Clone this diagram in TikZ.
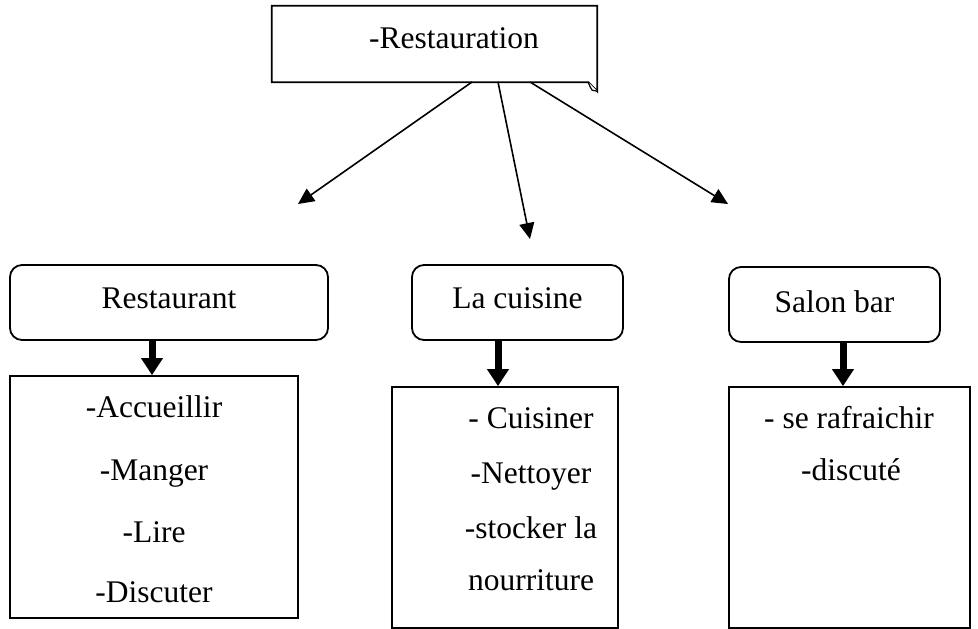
\documentclass[tikz,border=0pt]{standalone}
\usepackage{fontspec}
\setmainfont{Liberation Serif}
\usetikzlibrary{arrows.meta}
\begin{document}
\begin{tikzpicture}[x=1pt,y=-1pt,
  txt/.style={anchor=base,inner sep=0pt,font=\fontsize{31.5}{38}\selectfont},
  rbox/.style={draw,line width=1.8pt,rounded corners=12pt,inner sep=0pt},
  lbox/.style={draw,line width=1.8pt,inner sep=0pt},
  thin/.style={line width=1.6pt,-{Triangle[length=16pt,width=15pt]}},
  thick/.style={line width=7pt,-{Triangle[length=17pt,width=21pt]}}]
\useasboundingbox (0,0) rectangle (978,629);
% top box (folded corner)
\node[inner sep=0pt,minimum width=325pt,minimum height=76pt] (top) at (434.5,44) {};
\draw[line width=1.8pt,line join=miter] (top.north west) -- (top.north east) -- ([yshift=-9pt]top.south east) -- ([xshift=-9pt]top.south east) -- (top.south west) -- cycle;
\draw[line width=1.2pt,fill=white] ([xshift=-9pt]top.south east) .. controls ([xshift=-7pt,yshift=-5pt]top.south east) .. ([xshift=-5pt,yshift=-8pt]top.south east) -- ([yshift=-9pt]top.south east);
\node[txt] (toptxt) at (454,48) {-Restauration};
% middle rounded boxes
\node[rbox,minimum width=318pt,minimum height=75pt] (rest) at (169,302.5) {};
\node[txt] at (169,308) {Restaurant};
\node[rbox,minimum width=211pt,minimum height=75pt] (cuis) at (517.5,302.5) {};
\node[txt] at (517.5,308) {La cuisine};
\node[rbox,minimum width=211pt,minimum height=75pt] (salon) at (834.5,304.5) {};
\node[txt] at (834.5,312) {Salon bar};
% thin arrows
\coordinate (s1) at (472,82);
\coordinate (s2) at (498,82);
\coordinate (s3) at (530,82);
\coordinate (e1) at (298,204);
\coordinate (e2) at (530,239);
\coordinate (e3) at (728,204);
\draw[thin] (s1) -- (e1);
\draw[thin] (s2) -- (e2);
\draw[thin] (s3) -- (e3);
% lower boxes
\node[lbox,minimum width=288pt,minimum height=242pt] (restl) at (154,497) {};
\node[lbox,minimum width=226pt,minimum height=241pt] (cuisl) at (505,507.5) {};
\node[lbox,minimum width=241pt,minimum height=241pt] (salonl) at (849.5,507.5) {};
% thick arrows
\draw[thick] (rest.south -| 152,0) -- (restl.north -| 152,0);
\draw[thick] (cuis.south -| 498,0) -- (cuisl.north -| 498,0);
\draw[thick] (salon.south -| 843,0) -- (salonl.north -| 843,0);
% list texts
\node[txt] (r1) at (154,417) {-Accueillir};
\node[txt] (r2) at (154,480) {-Manger};
\node[txt] (r3) at (154,542) {-Lire};
\node[txt] (r4) at (154,602) {-Discuter};
\node[txt] (c1) at (531,428) {- Cuisiner};
\node[txt] (c2) at (531,483) {-Nettoyer};
\node[txt] (c3) at (531,538) {-stocker la};
\node[txt] (c4) at (531,590) {nourriture};
\node[txt] (b1) at (849,428) {- se rafraichir};
\node[txt] (b2) at (851,480) {-discuté};
\end{tikzpicture}
\end{document}
